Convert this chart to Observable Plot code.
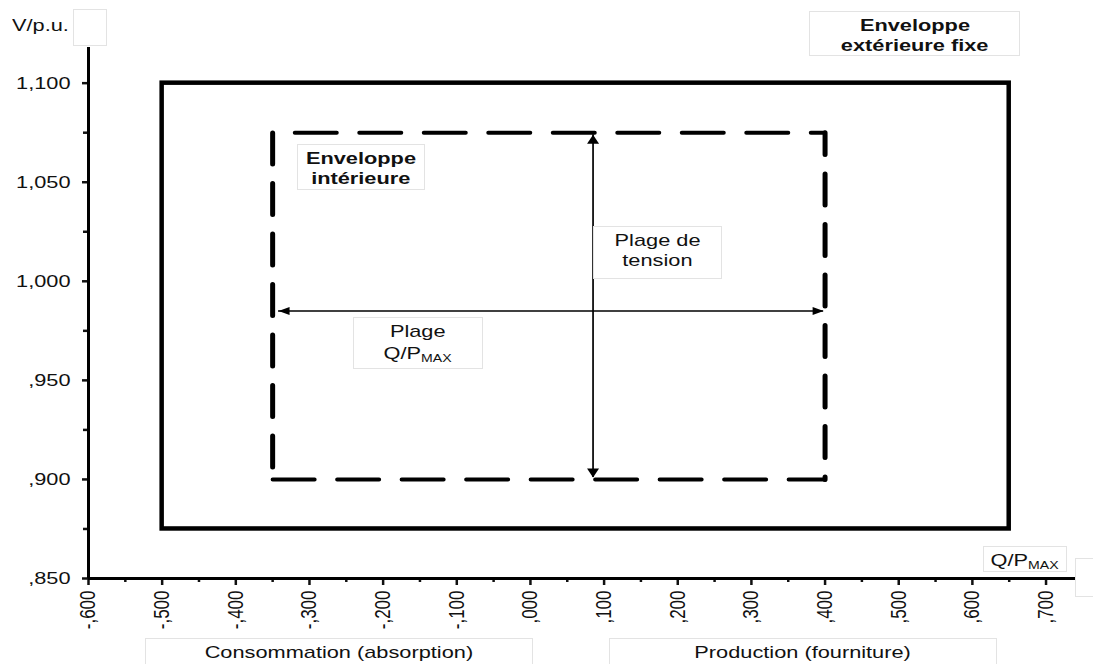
<!DOCTYPE html>
<html><head><meta charset="utf-8">
<script src="https://cdn.jsdelivr.net/npm/d3@7"></script>
<script src="https://cdn.jsdelivr.net/npm/@observablehq/plot@0.6"></script>
<style>
html,body{margin:0;padding:0;background:#fff;}
#wrap{position:relative;width:1093px;height:664px;overflow:hidden;font-family:"Liberation Sans",Arial,sans-serif;color:#111;}
#wrap svg{position:absolute;left:0;top:0;}
.box{position:absolute;box-sizing:border-box;border:1px solid #e3e3e3;background:#fff;display:flex;flex-direction:column;align-items:center;justify-content:flex-start;padding-top:4px;font-size:17px;line-height:20px;}
.box span{display:block;transform:scaleX(1.28);white-space:nowrap;}
.plain{position:absolute;font-size:17px;line-height:20px;}
.plain span{display:block;transform:scaleX(1.28);transform-origin:left center;white-space:nowrap;}
.bold{font-weight:bold;}
sub{font-size:11px;vertical-align:-3px;line-height:0;}
</style></head>
<body><div id="wrap"></div>
<script>
// Axis ticks (Q/Pmax and V in p.u.)
const xTicks = [-0.6, -0.5, -0.4, -0.3, -0.2, -0.1, 0, 0.1, 0.2, 0.3, 0.4, 0.5, 0.6, 0.7];
const xMinorTicks = [-0.55, -0.45, -0.35, -0.25, -0.15, -0.05, 0.05, 0.15, 0.25, 0.35, 0.45, 0.55, 0.65];
const yTicks = [0.85, 0.9, 0.95, 1.0, 1.05, 1.1];
const yMinorTicks = [0.875, 0.925, 0.975, 1.025, 1.075];
const xDomain = [-0.6, 0.74];
const yDomain = [0.85, 1.118];

// Fixed outer envelope
const outerQ = [-0.5, 0.65];
const outerV = [0.875, 1.1];
// Inner envelope (dashed)
const innerQ = [-0.35, 0.4];
const innerV = [0.9, 1.075];
// "Plage de tension" arrow (vertical)
const tensionQ = 0.085;
const tensionV = [0.901, 1.074];
// "Plage Q/Pmax" arrow (horizontal)
const rangeV = 0.985;
const rangeQ = [-0.342, 0.398];

const fmt = d => d.toFixed(3).replace(/^(-?)0\./, "$1.").replace(".", ",");

// arrowhead symbols (tip at origin)
const headUp = {draw(c){c.moveTo(0,0);c.lineTo(6,9);c.lineTo(-6,9);c.closePath();}};
const headDown = {draw(c){c.moveTo(0,0);c.lineTo(6,-9);c.lineTo(-6,-9);c.closePath();}};
const headLeft = {draw(c){c.moveTo(0,0);c.lineTo(11,-4);c.lineTo(11,4);c.closePath();}};
const headRight = {draw(c){c.moveTo(0,0);c.lineTo(-11,-4);c.lineTo(-11,4);c.closePath();}};

// inner envelope edges, drawn as one continuous path (bottom, right, top, left)
const innerEdges = [
  {x1: innerQ[0], y1: innerV[0], x2: innerQ[1], y2: innerV[0], h: true, off: 0},
  {x1: innerQ[1], y1: innerV[0], x2: innerQ[1], y2: innerV[1], h: false, off: 28.5},
  {x1: innerQ[1], y1: innerV[1], x2: innerQ[0], y2: innerV[1], h: true, off: 27.7},
  {x1: innerQ[0], y1: innerV[1], x2: innerQ[0], y2: innerV[0], h: false, off: 50.1}
];

const edgeMarks = innerEdges.map(e => Plot.link([e], {
  x1: "x1", y1: "y1", x2: "x2", y2: "y2",
  stroke: "black",
  strokeWidth: e.h ? 4 : 5,
  strokeLinecap: "round",
  strokeDasharray: e.h ? "42,22.5" : "31,19.5",
  strokeDashoffset: e.off
}));

const chart = Plot.plot({
  width: 1093, height: 664,
  marginLeft: 88, marginRight: 18, marginTop: 47, marginBottom: 86,
  x: {domain: xDomain, axis: null},
  y: {domain: yDomain, axis: null},
  style: {fontFamily: '"Liberation Sans", Arial, sans-serif', fontSize: "17px", color: "#111", background: "transparent"},
  marks: [
    Plot.rect([0], {x1: outerQ[0], x2: outerQ[1], y1: outerV[0], y2: outerV[1], fill: "none", stroke: "black", strokeWidth: 4.5}),
    ...edgeMarks,
    Plot.ruleX([tensionQ], {y1: tensionV[0], y2: tensionV[1], stroke: "black", strokeWidth: 1.7}),
    Plot.ruleY([rangeV], {x1: rangeQ[0], x2: rangeQ[1], stroke: "black", strokeWidth: 1.7}),
    Plot.dot([0], {x: tensionQ, y: tensionV[1], symbol: headUp, fill: "black", stroke: "none"}),
    Plot.dot([0], {x: tensionQ, y: tensionV[0], symbol: headDown, fill: "black", stroke: "none"}),
    Plot.dot([0], {x: rangeQ[0], y: rangeV, symbol: headLeft, fill: "black", stroke: "none"}),
    Plot.dot([0], {x: rangeQ[1], y: rangeV, symbol: headRight, fill: "black", stroke: "none"}),
    Plot.axisY(yTicks, {tickSize: 6, tickPadding: 12, tickFormat: fmt, fontSize: 17, strokeWidth: 2.5, label: null}),
    Plot.axisY(yMinorTicks, {tickSize: 5, tickFormat: () => "", strokeWidth: 2.5, label: null}),
    Plot.axisX(xTicks, {tickSize: 7, tickPadding: 5, tickRotate: -90, tickFormat: fmt, fontSize: 17, strokeWidth: 2.5, label: null}),
    Plot.axisX(xMinorTicks, {tickSize: 4, tickFormat: () => "", strokeWidth: 2.5, label: null}),
    Plot.ruleX([xDomain[0]], {y1: yDomain[0], y2: yDomain[1], stroke: "black", strokeWidth: 3}),
    Plot.ruleY([yDomain[0]], {x1: xDomain[0], x2: xDomain[1], stroke: "black", strokeWidth: 3})
  ]
});

// horizontal stretch of tick labels, as in the reference
chart.querySelectorAll('g[aria-label$="tick label"] text').forEach(t => {
  const tr = t.getAttribute("transform") || "";
  t.setAttribute("transform", tr + (tr.includes("rotate") ? " scale(1,1.28)" : " scale(1.28,1)"));
});

const wrap = document.getElementById("wrap");
wrap.appendChild(chart);

const boxes = [
  {cls: "plain", l: 12, t: 16, w: 70, h: 22, html: "<span>V/p.u.</span>"},
  {cls: "box", l: 73, t: 9, w: 34, h: 37, html: ""},
  {cls: "box bold", l: 809, t: 11, w: 211, h: 45, html: "<span>Enveloppe</span><span>extérieure fixe</span>"},
  {cls: "box bold", l: 297, t: 144, w: 128, h: 46, html: "<span>Enveloppe</span><span>intérieure</span>"},
  {cls: "box", l: 593, t: 226, w: 129, h: 53, html: "<span>Plage de</span><span>tension</span>"},
  {cls: "box", l: 353, t: 317, w: 130, h: 52, html: "<span>Plage</span><span style='margin-top:2px'>Q/P<sub>MAX</sub></span>"},
  {cls: "box", l: 983, t: 546, w: 84, h: 26, html: "<span>Q/P<sub>MAX</sub></span>"},
  {cls: "box", l: 1075, t: 558, w: 30, h: 39, html: ""},
  {cls: "box", l: 145, t: 638, w: 388, h: 40, html: "<span>Consommation (absorption)</span>"},
  {cls: "box", l: 609, t: 638, w: 388, h: 40, html: "<span>Production (fourniture)</span>"}
];
for (const b of boxes) {
  const d = document.createElement("div");
  d.className = b.cls;
  d.style.left = b.l + "px"; d.style.top = b.t + "px";
  d.style.width = b.w + "px"; d.style.height = b.h + "px";
  d.innerHTML = b.html;
  wrap.appendChild(d);
}
</script>
</body></html>
